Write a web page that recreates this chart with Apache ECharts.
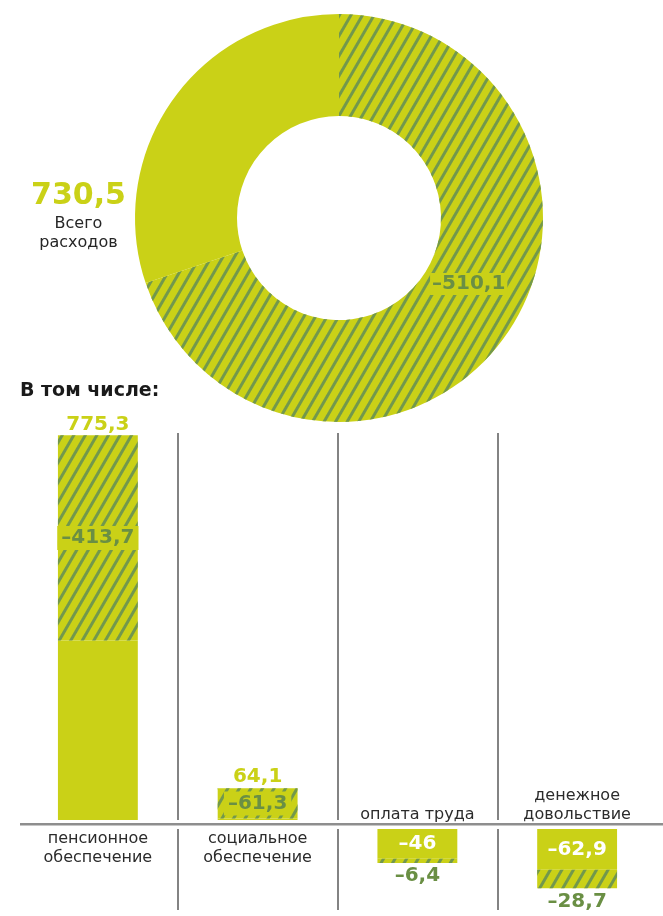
<!DOCTYPE html>
<html>
<head>
<meta charset="utf-8">
<script src="https://cdn.jsdelivr.net/npm/echarts@6/dist/echarts.min.js"></script>
<style>
html,body{margin:0;padding:0;background:#ffffff;}
#chart{width:663px;height:916px;}
</style>
</head>
<body>
<div id="chart"></div>
<script>
// ---- data ----
const totalSpending = 730.5;          // Всего расходов
const totalCut = -510.1;              // hatched part of the ring
const categories = ['пенсионное\nобеспечение', 'социальное\nобеспечение', 'оплата труда', 'денежное\nдовольствие'];
const mainValues = [775.3, 64.1, -46, -62.9];   // headline value of each column
const cutValues = [-413.7, -61.3, -6.4, -28.7]; // hatched value of each column

// ---- styles ----
const YG = '#cad117';
const GREEN = '#72984c';
const LABEL_GREEN = '#6a8f44';
const FONT = 'DejaVu Sans';
const hatch = {
  symbol: 'rect',
  symbolSize: 1,
  symbolKeepAspect: false,
  color: GREEN,
  dashArrayX: [1, 0],
  dashArrayY: [3, 7],
  rotation: -Math.PI / 3
};
const fmt = v => (v < 0 ? '–' : '') + String(Math.abs(v)).replace('.', ',');

// ---- derived series ----
const solidTop = mainValues.map((m, i) => m > 0 ? +(m + cutValues[i]).toFixed(1) : '-');
const hatchTop = mainValues.map((m, i) => m > 0 ? -cutValues[i] : '-');
const totalTop = mainValues.map(m => m > 0 ? m : '-');
const solidBottom = mainValues.map(m => m < 0 ? m : '-');
const hatchBottom = mainValues.map((m, i) => m < 0 ? cutValues[i] : '-');

const sepColors = ['rgba(0,0,0,0)', '#5a5a5a', '#5a5a5a', '#5a5a5a', 'rgba(0,0,0,0)'];
const numLabel = (color) => ({ fontFamily: FONT, fontWeight: 'bold', fontSize: 20, color: color });

const chart = echarts.init(document.getElementById('chart'), null, { renderer: 'canvas' });
chart.setOption({
  animation: false,
  backgroundColor: '#ffffff',
  title: [
    {
      text: fmt(totalSpending),
      subtext: 'Всего\nрасходов',
      left: 78.5, top: 181, padding: 0, itemGap: 3,
      textAlign: 'center', textBaseline: 'top',
      textStyle: { fontFamily: FONT, fontWeight: 'bold', fontSize: 30, color: YG },
      subtextStyle: { fontFamily: FONT, fontSize: 16, lineHeight: 19, color: '#262626' }
    },
    {
      text: 'В том числе:',
      left: 20, top: 382, padding: 0,
      textStyle: { fontFamily: FONT, fontWeight: 'bold', fontSize: 19, color: '#1a1a1a' }
    }
  ],
  graphic: [
    { type: 'rect', silent: true, shape: { x: 20, y: 823, width: 643, height: 2.5 }, style: { fill: '#8e8e8e' } }
  ],
  grid: [
    { left: 18, right: 6, top: 433, bottom: 96 },
    { left: 18, right: 6, top: 829, bottom: 6 }
  ],
  xAxis: [
    {
      type: 'category', gridIndex: 0, data: categories,
      axisLine: { show: false }, axisTick: { show: false },
      splitLine: { show: true, lineStyle: { color: sepColors, width: 1.5 } },
      axisLabel: {
        interval: 0, margin: 9, fontFamily: FONT, fontSize: 16, lineHeight: 19, color: '#2b2b2b',
        formatter: (v, i) => mainValues[i] > 0 ? v : ''
      }
    },
    {
      type: 'category', gridIndex: 1, data: categories, position: 'top',
      axisLine: { show: false }, axisTick: { show: false },
      splitLine: { show: true, lineStyle: { color: sepColors, width: 1.5 } },
      axisLabel: {
        interval: 0, margin: 5, fontFamily: FONT, fontSize: 16, lineHeight: 19, color: '#2b2b2b',
        formatter: (v, i) => mainValues[i] < 0 ? v : ''
      }
    }
  ],
  yAxis: [
    { type: 'value', gridIndex: 0, min: 0, max: 780, show: false, splitLine: { show: false } },
    { type: 'value', gridIndex: 1, min: -125, max: 0, show: false, splitLine: { show: false } }
  ],
  series: [
    {
      type: 'pie', silent: true,
      center: [339, 218], radius: [102, 204],
      startAngle: 90, clockwise: true,
      avoidLabelOverlap: false,
      labelLine: { show: false },
      emphasis: { disabled: true },
      data: [
        {
          name: 'cut', value: -totalCut,
          itemStyle: { color: YG, decal: hatch },
          label: {
            show: true, position: 'inside',
            formatter: '{v|' + fmt(totalCut) + '}',
            padding: [0, 0, 50, 6],
            rich: { v: { ...numLabel(LABEL_GREEN), backgroundColor: YG, padding: [1, 2] } }
          }
        },
        {
          name: 'rest', value: +(totalSpending + totalCut).toFixed(1),
          itemStyle: { color: YG },
          label: { show: false }
        }
      ]
    },
    {
      name: 'solidTop', type: 'bar', xAxisIndex: 0, yAxisIndex: 0, stack: 'top',
      barWidth: '50%', barGap: '-100%', silent: true,
      itemStyle: { color: YG },
      data: solidTop
    },
    {
      name: 'hatchTop', type: 'bar', xAxisIndex: 0, yAxisIndex: 0, stack: 'top',
      barWidth: '50%', barGap: '-100%', silent: true,
      itemStyle: { color: YG, decal: hatch },
      label: {
        show: true, position: 'inside', ...numLabel(LABEL_GREEN),
        backgroundColor: YG, padding: [2, 4],
        formatter: p => fmt(cutValues[p.dataIndex])
      },
      data: hatchTop
    },
    {
      name: 'totalTop', type: 'bar', xAxisIndex: 0, yAxisIndex: 0,
      barWidth: '50%', barGap: '-100%', silent: true,
      itemStyle: { color: 'rgba(0,0,0,0)' },
      label: {
        show: true, position: 'top', distance: 1, ...numLabel(YG),
        formatter: p => fmt(mainValues[p.dataIndex])
      },
      data: totalTop
    },
    {
      name: 'solidBottom', type: 'bar', xAxisIndex: 1, yAxisIndex: 1, stack: 'bottom',
      barWidth: '50%', barGap: '-100%', silent: true,
      itemStyle: { color: YG },
      label: {
        show: true, position: 'inside', ...numLabel('#ffffff'),
        formatter: p => fmt(mainValues[p.dataIndex])
      },
      data: solidBottom
    },
    {
      name: 'hatchBottom', type: 'bar', xAxisIndex: 1, yAxisIndex: 1, stack: 'bottom',
      barWidth: '50%', barGap: '-100%', silent: true,
      itemStyle: { color: YG, decal: hatch },
      label: {
        show: true, position: 'bottom', distance: 3, ...numLabel(LABEL_GREEN),
        formatter: p => fmt(cutValues[p.dataIndex])
      },
      data: hatchBottom
    }
  ]
});
</script>
</body>
</html>
